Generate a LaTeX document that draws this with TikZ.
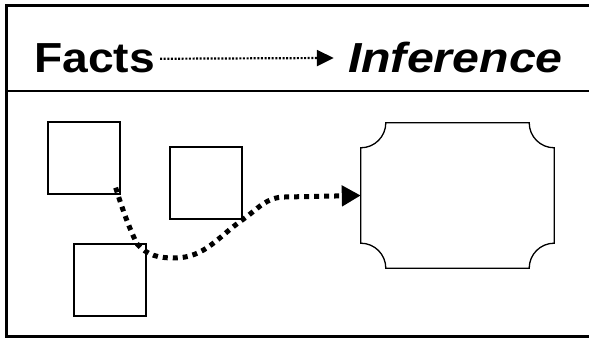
\documentclass[tikz,border=0pt]{standalone}
\usepackage{fontspec}
\setmainfont{Liberation Sans}
\usetikzlibrary{arrows.meta}

\tikzset{
    factbox/.style={draw, line width=1.3pt, minimum width=72pt, minimum height=72pt, inner sep=0pt},
    infbox/.style={minimum width=193pt, minimum height=145pt, inner sep=0pt},
    headtext/.style={font=\fontsize{42}{42}\selectfont\bfseries, inner sep=0pt, transform shape},
    reasonline/.style={line width=5pt, dash pattern=on 5pt off 5pt, -{Triangle[length=19pt,width=20pt]}},
    headline/.style={line width=2.2pt, dash pattern=on 2pt off 1.6pt, -{Triangle[length=17pt,width=16pt]}}
}

\begin{document}
\begin{tikzpicture}[x=1pt,y=1pt]
    \useasboundingbox (0,0) rectangle (589,339);
    % frame
    \draw[line width=3pt] (600,333) -- (6,333) -- (6,2) -- (600,2);
    \draw[line width=2pt] (6,248) -- (600,248);
    % header
    \node[headtext, xscale=1.1, anchor=base west] (facts) at (34,266) {Facts};
    \node[headtext, xscale=1.15, anchor=base east] (inference) at (563,266) {\itshape Inference};
    \draw[headline] ([xshift=5pt]facts.east) -- ([xshift=-14pt]inference.west);
    % facts
    \node[factbox] (f1) at (84,181) {};
    \node[factbox] (f2) at (206,156) {};
    \node[factbox] (f3) at (110,59) {};
    % inference shape
    \node[infbox] (inf) at (457.5,143.5) {};
    \draw[line width=1.3pt]
        ([yshift=-25pt]inf.north west)
        arc[start angle=-90, end angle=0, radius=25pt]
        -- ([xshift=-25pt]inf.north east)
        arc[start angle=180, end angle=270, radius=25pt]
        -- ([yshift=25pt]inf.south east)
        arc[start angle=90, end angle=180, radius=25pt]
        -- ([xshift=25pt]inf.south west)
        arc[start angle=0, end angle=90, radius=25pt]
        -- cycle;
    % reasoning path
    \draw[reasonline] ([shift={(-5,7)}]f1.south east)
        to[out=-72,in=115] ([shift={(-10,0)}]f3.north east)
        to[out=-50,in=180] (174,81)
        to[out=0,in=-145] (f2.south east)
        to[out=35,in=180] (285,142)
        -- (inf.west);
\end{tikzpicture}
\end{document}
